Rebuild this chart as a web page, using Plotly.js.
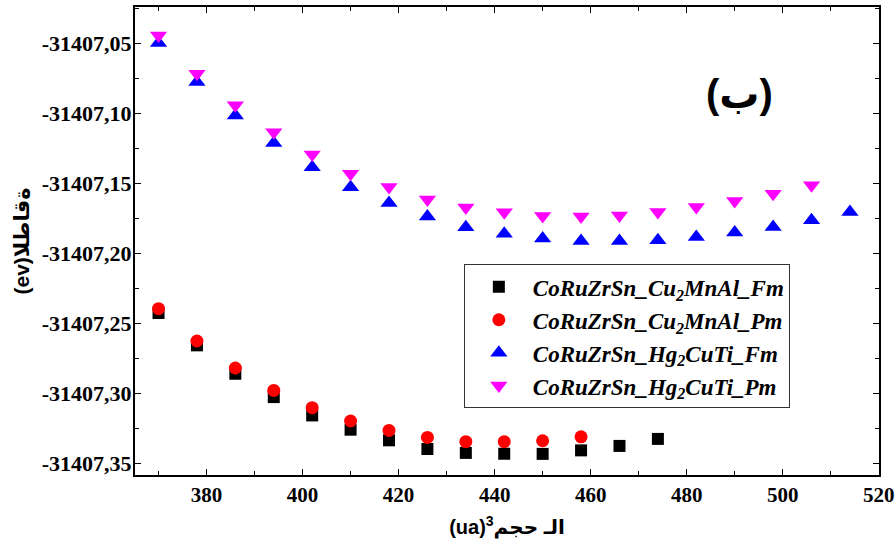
<!DOCTYPE html>
<html>
<head>
<meta charset="utf-8">
<script src="https://cdn.plot.ly/plotly-3.0.1.min.js"></script>
<style>html,body{margin:0;padding:0;background:#fff;}#chart{width:896px;height:548px;}</style>
</head>
<body>
<div id="chart"></div>
<script>
// ---- data ----
var volCu2MnAlFm = [370, 378, 386, 394, 402, 410, 418, 426, 434, 442, 450, 458, 466, 474];
var eCu2MnAlFm = [-31407.2426, -31407.2657, -31407.2860, -31407.3027, -31407.3158, -31407.3260, -31407.3336,
                  -31407.3398, -31407.3426, -31407.3432, -31407.3433, -31407.3408, -31407.3376, -31407.3326];

var volCu2MnAlPm = [370, 378, 386, 394, 402, 410, 418, 426, 434, 442, 450, 458];
var eCu2MnAlPm = [-31407.2395, -31407.2626, -31407.2819, -31407.2979, -31407.3103, -31407.3198, -31407.3265,
                  -31407.3315, -31407.3346, -31407.3346, -31407.3339, -31407.3311];

var volHg2CuTiFm = [370, 378, 386, 394, 402, 410, 418, 426, 434, 442, 450, 458, 466, 474, 482, 490, 498, 506, 514];
var eHg2CuTiFm = [-31407.0496, -31407.0775, -31407.1013, -31407.1211, -31407.1383, -31407.1526, -31407.1640,
                  -31407.1735, -31407.1812, -31407.1859, -31407.1894, -31407.1911, -31407.1911, -31407.1906,
                  -31407.1883, -31407.1851, -31407.1811, -31407.1763, -31407.1704];

var volHg2CuTiPm = [370, 378, 386, 394, 402, 410, 418, 426, 434, 442, 450, 458, 466, 474, 482, 490, 498, 506];
var eHg2CuTiPm = [-31407.0441, -31407.0715, -31407.0941, -31407.1134, -31407.1292, -31407.1430, -31407.1525,
                  -31407.1615, -31407.1672, -31407.1706, -31407.1733, -31407.1735, -31407.1728, -31407.1704,
                  -31407.1668, -31407.1625, -31407.1573, -31407.1513];

var seriesNames = ['CoRuZrSn_Cu<sub>2</sub>MnAl_Fm', 'CoRuZrSn_Cu<sub>2</sub>MnAl_Pm',
                   'CoRuZrSn_Hg<sub>2</sub>CuTi_Fm', 'CoRuZrSn_Hg<sub>2</sub>CuTi_Pm'];

var xTickVals = [380, 400, 420, 440, 460, 480, 500, 520];
var xTickText = ['380', '400', '420', '440', '460', '480', '500', '520'];
var yTickVals = [-31407.35, -31407.30, -31407.25, -31407.20, -31407.15, -31407.10, -31407.05];
var yTickText = ['-31407,35', '-31407,30', '-31407,25', '-31407,20', '-31407,15', '-31407,10', '-31407,05'];

var xTitle = '(ua)<sup>3</sup>الـ حجم';
var yTitle = '\u202D(ev)الطاقة\u202C';
var panelLabel = '(ب)';

// ---- chart ----
function mk(x, y, name, symbol, color, size, group) {
  return {
    x: x, y: y, name: name, type: 'scatter', mode: 'markers', legendgroup: group,
    marker: {symbol: symbol, color: color, size: size, line: {width: 0}}
  };
}
var traces = [
  mk(volCu2MnAlFm, eCu2MnAlFm, seriesNames[0], 'square', '#000000', 12, 'a'),
  mk(volCu2MnAlPm, eCu2MnAlPm, seriesNames[1], 'circle', '#FF0000', 13, 'b'),
  mk(volHg2CuTiFm, eHg2CuTiFm, seriesNames[2], 'triangle-up', '#0000FF', 15, 'c'),
  mk(volHg2CuTiPm, eHg2CuTiPm, seriesNames[3], 'triangle-down', '#FF00FF', 15, 'd')
];

var serifFam = '"Liberation Serif", "Times New Roman", serif';
var sansFam = '"Liberation Sans", Arial, "DejaVu Sans", sans-serif';

var layout = {
  width: 896, height: 548,
  margin: {l: 135, r: 17, t: 7, b: 73, pad: 0},
  paper_bgcolor: '#fff', plot_bgcolor: '#fff',
  showlegend: true,
  font: {family: serifFam, color: '#000'},
  xaxis: {
    range: [365.1, 520.05],
    tickmode: 'array', tickvals: xTickVals, ticktext: xTickText,
    ticks: 'inside', ticklen: 6, tickwidth: 1.5, tickcolor: '#000',
    minor: {tickmode: 'linear', tick0: 370, dtick: 10, ticks: 'inside', ticklen: 4, tickwidth: 1.2, tickcolor: '#000', showgrid: false},
    showline: true, linecolor: '#000', linewidth: 2, mirror: 'ticks',
    showgrid: false, zeroline: false,
    tickfont: {family: serifFam, size: 21, color: '#000', weight: 'bold'},
    title: {text: xTitle, font: {family: sansFam, size: 20, color: '#000', weight: 'bold'}, standoff: 14}
  },
  yaxis: {
    range: [-31407.3584, -31407.0238],
    tickmode: 'array', tickvals: yTickVals, ticktext: yTickText,
    ticks: 'inside', ticklen: 6, tickwidth: 1.5, tickcolor: '#000',
    minor: {tickmode: 'linear', tick0: -31407.025, dtick: 0.025, ticks: 'inside', ticklen: 4, tickwidth: 1.2, tickcolor: '#000', showgrid: false},
    showline: true, linecolor: '#000', linewidth: 2, mirror: 'ticks',
    showgrid: false, zeroline: false,
    ticklabelstandoff: -3,
    tickfont: {family: serifFam, size: 22, color: '#000', weight: 'bold'},
    title: {text: yTitle, font: {family: sansFam, size: 21, color: '#000', weight: 'bold'}, standoff: 6}
  },
  legend: {
    x: 0.442, y: 0.45, xanchor: 'left', yanchor: 'top',
    bgcolor: '#fff', bordercolor: '#333', borderwidth: 1,
    traceorder: 'grouped', tracegroupgap: 0, itemwidth: 58,
    font: {family: serifFam, size: 23, color: '#000', weight: 'bold', style: 'italic'}
  },
  annotations: [{
    text: panelLabel, xref: 'paper', yref: 'paper', x: 0.813, y: 0.815,
    xanchor: 'center', yanchor: 'middle', showarrow: false,
    font: {family: sansFam, size: 40, color: '#000', weight: 'bold'}
  }]
};

Plotly.newPlot('chart', traces, layout, {staticPlot: true, displayModeBar: false});
</script>
</body>
</html>
